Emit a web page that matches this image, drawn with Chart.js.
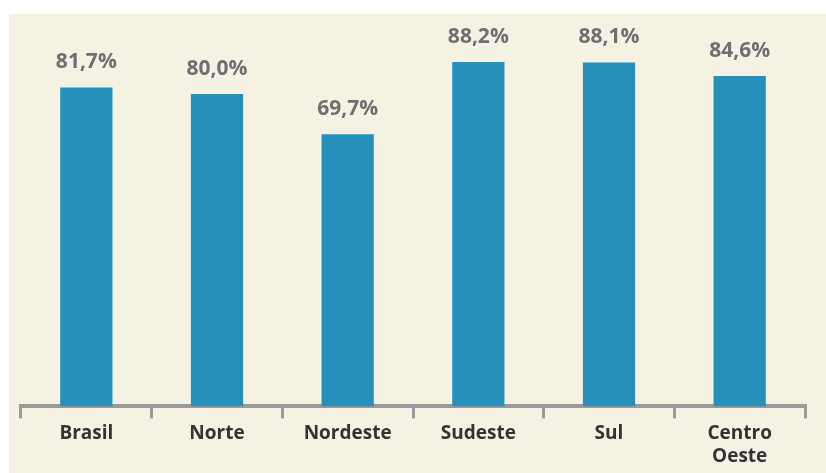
<!DOCTYPE html>
<html>
<head>
<meta charset="utf-8">
<script src="https://cdn.jsdelivr.net/npm/chart.js@4/dist/chart.umd.min.js"></script>
<style>
  html, body { margin: 0; padding: 0; background: #ffffff; }
  #frame {
    position: absolute; left: 9px; top: 14px; width: 817px; height: 459px;
    background: #f5f2e3;
  }
  #wrap { position: absolute; left: 0; top: 0; width: 826px; height: 473px; }
</style>
</head>
<body>
<div id="frame"></div>
<div id="wrap"><canvas id="chart-bar"></canvas></div>
<script>
const regions = ['Brasil', 'Norte', 'Nordeste', 'Sudeste', 'Sul', ['Centro', 'Oeste']];
const percentages = [81.7, 80.0, 69.7, 88.2, 88.1, 84.6];

// value labels above each bar, pt-BR style with a comma
const valueLabels = {
  id: 'valueLabels',
  afterDatasetsDraw(chart) {
    const ctx = chart.ctx;
    const meta = chart.getDatasetMeta(0);
    ctx.save();
    ctx.font = 'bold 21px "Open Sans"';
    ctx.fillStyle = '#6f6f72';
    ctx.textAlign = 'center';
    ctx.textBaseline = 'middle';
    meta.data.forEach((bar, i) => {
      const txt = percentages[i].toFixed(1).replace('.', ',') + '%';
      ctx.fillText(txt, bar.x, bar.y - 25);
    });
    ctx.restore();
  }
};

function setBarChart() {
  const ctx = document.getElementById('chart-bar');

  const data = {
    labels: regions,
    datasets: [
      {
        label: 'Regiões',
        data: percentages,
        backgroundColor: '#2690ba',
        borderWidth: 0,
        categoryPercentage: 1,
        barPercentage: 0.4,
      },
    ],
  };

  const config = {
    type: 'bar',
    data: data,
    options: {
      responsive: true,
      maintainAspectRatio: false,
      animation: false,
      layout: { padding: { left: 21, right: 21, top: 16, bottom: 1 } },
      plugins: {
        legend: { display: false },
        tooltip: { enabled: false },
      },
      scales: {
        x: {
          grid: {
            display: true,
            offset: true,
            drawOnChartArea: false,
            drawTicks: true,
            tickLength: 12,
            color: '#9a9a9a',
            lineWidth: 3,
          },
          border: { display: true, color: '#9a9a9a', width: 4 },
          ticks: {
            color: '#333333',
            font: { family: 'Open Sans', weight: 'bold', size: 19, lineHeight: 1.2 },
            padding: 4,
          },
        },
        y: {
          display: false,
          min: 0,
          max: 100,
        },
      },
    },
    plugins: [valueLabels],
  };

  new Chart(ctx, config);
}

setBarChart();
</script>
</body>
</html>
